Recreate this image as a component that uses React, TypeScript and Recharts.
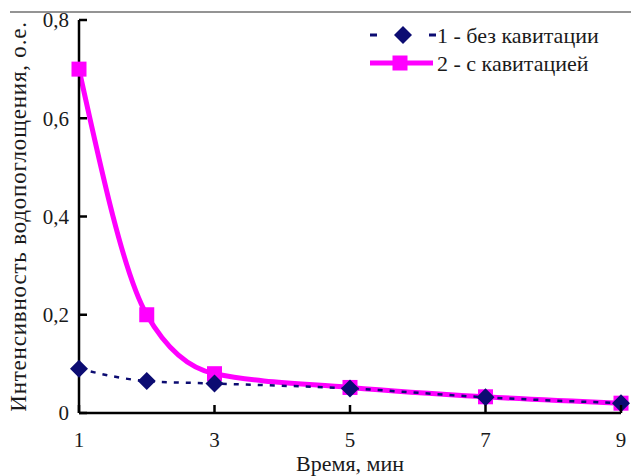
import React from "react";
import { LineChart, Line, XAxis, YAxis } from "recharts";

// ─── Data ────────────────────────────────────────────────────────────────────
const times = [1, 2, 3, 5, 7, 9];
const withoutCavitation = [0.09, 0.065, 0.06, 0.05, 0.032, 0.02];
const withCavitation = [0.7, 0.2, 0.08, 0.052, 0.033, 0.02];
const xTicks = [1, 3, 5, 7, 9];
const yTicks = [0, 0.2, 0.4, 0.6, 0.8];
const seriesNames = ["1 - без кавитации", "2 - с кавитацией"];

const data = times.map((t, i) => ({
  t,
  s1: withoutCavitation[i],
  s2: withCavitation[i],
}));

const FONT = '"Liberation Serif", "Times New Roman", serif';
const NAVY = "#0c0c72";
const MAGENTA = "#ff00ff";
const TEXT = "#1a1a1a";

// ─── Markers ─────────────────────────────────────────────────────────────────
function Diamond({ cx, cy }: any) {
  if (cx == null || cy == null) return null;
  const r = 9;
  return (
    <polygon
      points={`${cx},${cy - r} ${cx + r},${cy} ${cx},${cy + r} ${cx - r},${cy}`}
      fill={NAVY}
    />
  );
}

function Square({ cx, cy }: any) {
  if (cx == null || cy == null) return null;
  const h = 7.5;
  return <rect x={cx - h} y={cy - h} width={h * 2} height={h * 2} fill={MAGENTA} />;
}

// ─── Ticks (drawn inward like the original) ──────────────────────────────────
function XTick({ x, y, payload }: any) {
  return (
    <g>
      <line x1={x} y1={y} x2={x} y2={y - 8} stroke="#000" strokeWidth={2.5} />
      <text x={x} y={y + 34} textAnchor="middle" fontSize={21} fontFamily={FONT} fill={TEXT}>
        {payload.value}
      </text>
    </g>
  );
}

function YTick({ x, y, payload }: any) {
  const label = payload.value === 0 ? "0" : String(payload.value).replace(".", ",");
  return (
    <g>
      <line x1={x} y1={y} x2={x + 8} y2={y} stroke="#000" strokeWidth={2.5} />
      <text x={x - 10} y={y} dy="0.35em" textAnchor="end" fontSize={21} fontFamily={FONT} fill={TEXT}>
        {label}
      </text>
    </g>
  );
}

// ─── Legend + top rule (overlay) ─────────────────────────────────────────────
function Overlay() {
  return (
    <svg width={631} height={85} style={{ display: "block" }}>
      <line x1={10} y1={12} x2={631} y2={12} stroke="#707070" strokeWidth={1.5} />
      <line x1={370} y1={35} x2={436} y2={35} stroke={NAVY} strokeWidth={3} strokeDasharray="7 22.5" />
      <Diamond cx={403} cy={35} />
      <text x={437} y={35} dy="0.35em" fontSize={22} fontFamily={FONT} fill={TEXT}>
        {seriesNames[0]}
      </text>
      <line x1={370} y1={63} x2={433} y2={63} stroke={MAGENTA} strokeWidth={5} />
      <Square cx={400} cy={63} />
      <text x={437} y={63} dy="0.35em" fontSize={22} fontFamily={FONT} fill={TEXT}>
        {seriesNames[1]}
      </text>
    </svg>
  );
}

export default function App() {
  return (
    <div
      style={{
        position: "absolute",
        left: 0,
        top: 0,
        width: 631,
        height: 476,
        background: "#fff",
      }}
    >
      <LineChart
        width={631}
        height={476}
        data={data}
        margin={{ top: 20, right: 10, bottom: 0, left: 0 }}
      >
        <XAxis
          dataKey="t"
          type="number"
          domain={[1, 9]}
          ticks={xTicks}
          height={63}
          axisLine={{ stroke: "#000", strokeWidth: 2.5 }}
          tickLine={false}
          tickSize={0}
          tickMargin={0}
          tick={<XTick />}
          label={{
            value: "Время, мин",
            position: "insideBottom",
            offset: 5,
            fontSize: 22,
            fill: TEXT,
            fontFamily: FONT,
          }}
        />
        <YAxis
          type="number"
          domain={[0, 0.8]}
          ticks={yTicks}
          width={79}
          axisLine={{ stroke: "#000", strokeWidth: 2.5 }}
          tickLine={false}
          tickSize={0}
          tickMargin={0}
          tick={<YTick />}
          label={{
            value: "Интенсивность водопоглощения, о.е.",
            angle: -90,
            position: "insideLeft",
            offset: 18,
            fontSize: 23,
            fill: TEXT,
            fontFamily: FONT,
            letterSpacing: 0.8,
            style: { textAnchor: "middle" },
          }}
        />
        <Line
          type="monotone"
          dataKey="s2"
          stroke={MAGENTA}
          strokeWidth={5}
          dot={<Square />}
          activeDot={false}
          isAnimationActive={false}
        />
        <Line
          type="monotone"
          dataKey="s1"
          stroke={NAVY}
          strokeWidth={2.5}
          strokeDasharray="5 7"
          dot={<Diamond />}
          activeDot={false}
          isAnimationActive={false}
        />
      </LineChart>
      <div style={{ position: "absolute", left: 0, top: 0, zIndex: 2 }}>
        <Overlay />
      </div>
    </div>
  );
}
